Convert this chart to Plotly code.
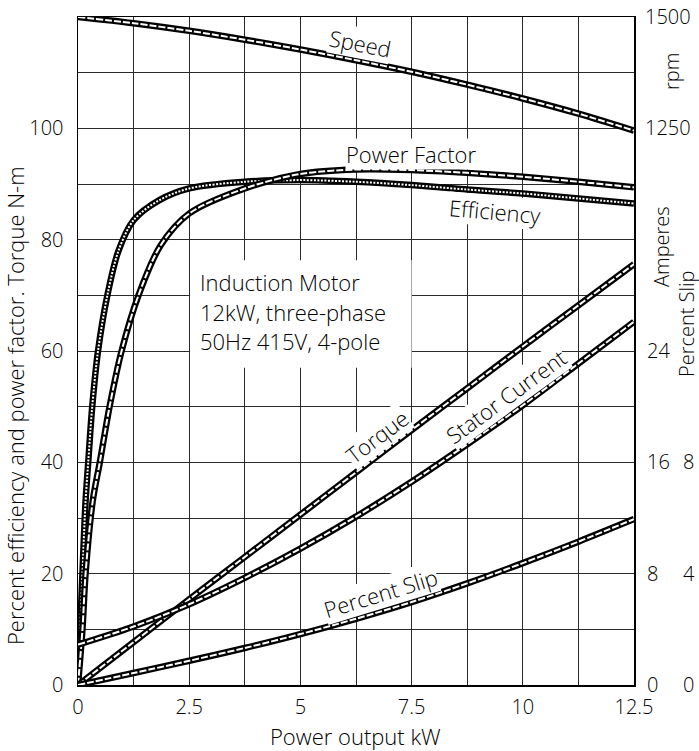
import plotly.graph_objects as go

# ---------------- data ----------------
power_kw = [0, 1.25, 2.5, 3.75, 5, 6.25, 7.5, 8.75, 10, 11.25, 12.5]
speed_rpm = [1500, 1486, 1469, 1449, 1427, 1403, 1377, 1348, 1317, 1283, 1245]
torque_nm = [0, 7.7, 15.4, 23.0, 30.6, 38.2, 45.8, 53.3, 60.8, 68.2, 75.6]
stator_current_a = [2.9, 4.2, 5.8, 7.7, 9.8, 12.1, 14.6, 17.3, 20.1, 23.1, 26.1]
slip_pct = [0, 0.43, 0.87, 1.33, 1.83, 2.38, 2.98, 3.65, 4.38, 5.15, 5.96]

eff_kw = [0, 0.05, 0.10, 0.17, 0.23, 0.32, 0.45, 0.66, 0.91, 1.25, 1.83, 2.5,
          3.75, 5, 6.25, 7.5, 8.75, 10, 11.25, 12.5]
efficiency_pct = [0, 10, 20, 33, 40, 50, 60, 70, 78, 83.5, 87.1, 89.2,
                  90.4, 90.7, 90.4, 89.8, 89.0, 88.3, 87.4, 86.5]

pf_kw = [0, 0.10, 0.17, 0.33, 0.49, 0.71, 0.98, 1.36, 1.86, 2.5, 3.75, 5,
         6.25, 7.5, 8.75, 10, 11.25, 12.5]
power_factor_pct = [0, 10, 20, 33, 40, 50, 60, 70, 79, 84.7, 89.2, 91.8,
                    92.6, 92.5, 92.0, 91.3, 90.4, 89.4]

x_ticks = [0, 2.5, 5, 7.5, 10, 12.5]
x_tick_text = ["0", "2.5", "5", "7.5", "10", "12.5"]
left_ticks = [0, 20, 40, 60, 80, 100]
rpm_ticks = [1250, 1500]
amp_ticks = [0, 8, 16, 24]
slip_ticks = [0, 4, 8]

info_lines = ["Induction Motor", "12kW, three-phase", "50Hz 415V, 4-pole"]

# ---------------- styling ----------------
FONT = "Open Sans, Lato, sans-serif"
WEIGHT = 300
W, H = 699, 751
X0, Y0 = 78, 685                  # plot origin in window pixels
PW, PH = 556, 668
ML, MT = X0, Y0 - PH
MR, MB = W - ML - PW, H - MT - PH
GRID = "#2a2a2a"


def px_to_paper(px, py):
    return (px - X0) / PW, (Y0 - py) / PH


def fnt(size):
    return dict(family=FONT, size=size, color="black", weight=WEIGHT)


fig = go.Figure()


def add_curve(x, y, yaxis, dash):
    fig.add_trace(go.Scatter(x=x, y=y, yaxis=yaxis, mode="lines",
                             line=dict(color="black", width=6.5, shape="spline", smoothing=0.9),
                             hoverinfo="skip", showlegend=False))
    fig.add_trace(go.Scatter(x=x, y=y, yaxis=yaxis, mode="lines",
                             line=dict(color="white", width=2, dash=dash, shape="spline", smoothing=0.9),
                             hoverinfo="skip", showlegend=False))


add_curve(power_kw, speed_rpm, "y2", "7px,2px")
add_curve(eff_kw, efficiency_pct, "y", "2px,1.5px")
add_curve(pf_kw, power_factor_pct, "y", "7px,2px")
add_curve(power_kw, torque_nm, "y", "7px,2px")
add_curve(power_kw, stator_current_a, "y3", "7px,2px")
add_curve(power_kw, slip_pct, "y4", "7px,2px")

tickfont = fnt(20)
right_common = dict(overlaying="y", side="right", anchor="x", automargin=False,
                    showgrid=False, zeroline=False, showline=False, ticks="",
                    tickfont=tickfont, ticklabeloverflow="allow")

fig.update_layout(
    template="none",
    width=W, height=H, autosize=False,
    margin=dict(l=ML, r=MR, t=MT, b=MB, autoexpand=False),
    paper_bgcolor="white", plot_bgcolor="white",
    font=fnt(20),
    showlegend=False,
    xaxis=dict(range=[0, 12.5], tickvals=x_ticks, ticktext=x_tick_text, automargin=False,
               showgrid=True, gridcolor=GRID, gridwidth=1,
               minor=dict(dtick=1.25, tick0=0, showgrid=True, gridcolor=GRID, gridwidth=1),
               zeroline=False, showline=True, linecolor="black", linewidth=1.5,
               mirror=True, ticks="", tickfont=tickfont, ticklabelstandoff=3),
    yaxis=dict(range=[0, 120], tickvals=left_ticks, automargin=False,
               showgrid=True, gridcolor=GRID, gridwidth=1,
               minor=dict(dtick=10, tick0=0, showgrid=True, gridcolor=GRID, gridwidth=1),
               zeroline=False, showline=True, linecolor="black", linewidth=1.5,
               mirror=True, ticks="", tickfont=tickfont, ticklabelstandoff=9),
    yaxis2=dict(range=[0, 1500], tickvals=rpm_ticks, ticklabelstandoff=10, **right_common),
    yaxis3=dict(range=[0, 48], tickvals=amp_ticks, ticklabelstandoff=12, **right_common),
    yaxis4=dict(range=[0, 24], tickvals=slip_ticks, ticklabelstandoff=48, **right_common),
)

# white panel behind the information text (covers gridlines)
fig.add_shape(type="rect", xref="x", yref="y", x0=2.52, x1=7.5, y0=57, y1=76.3,
              fillcolor="white", line=dict(width=0), layer="between")

annotations = []


def curve_label(text, x, y, angle, size=22):
    annotations.append(dict(text=text, x=x, y=y, xref="x", yref="y", showarrow=False,
                            textangle=angle, xanchor="center", yanchor="middle",
                            bgcolor="white", borderpad=0, font=fnt(size)))


curve_label("Speed", 6.34, 115.3, 11)
curve_label("Power Factor", 7.49, 95.4, 0)
curve_label("Efficiency", 9.37, 85.1, 5)
curve_label("Torque", 6.72, 44.8, -37)
curve_label("Stator Current", 9.62, 51.9, -36)
curve_label("Percent Slip", 6.79, 16.5, -17)

for i, line in enumerate(info_lines):
    px, py = px_to_paper(198, 282 + 29.5 * i)
    annotations.append(dict(text=line, x=px, y=py, xref="paper", yref="paper", showarrow=False,
                            xanchor="left", yanchor="middle", font=fnt(22)))


def title(text, cx, cy, angle=0, size=20):
    px, py = px_to_paper(cx, cy)
    annotations.append(dict(text=text, x=px, y=py, xref="paper", yref="paper", showarrow=False,
                            textangle=angle, xanchor="center", yanchor="middle", font=fnt(size)))


title("Percent efficiency and power factor. Torque N-m", 15, 406, -90, 22)
title("Power output kW", 355, 736, 0, 22)
title("rpm", 671, 72, -90, 20)
title("Amperes", 661, 247, -90, 20)
title("Percent Slip", 686, 324, -90, 20)

fig.update_layout(annotations=annotations)

# remove the default 8px page margin so the figure fills the window exactly
fig.write_html("out.html", config={"displayModeBar": False, "staticPlot": True},
               post_script="document.body.style.margin='0';")
